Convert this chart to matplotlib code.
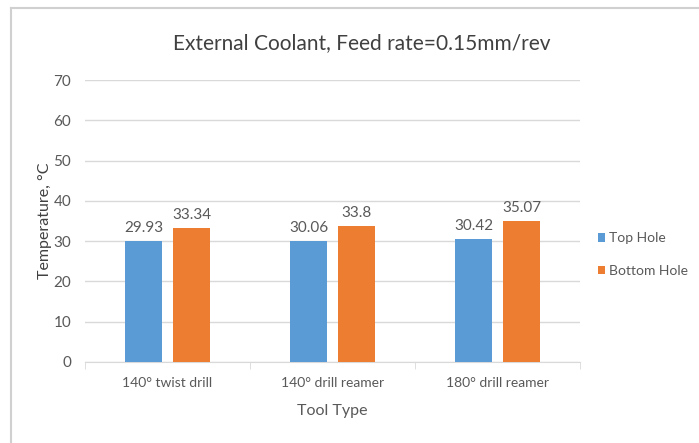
import numpy as np
import matplotlib
matplotlib.use("Agg")
import matplotlib.pyplot as plt
from matplotlib.lines import Line2D

plt.rcParams['font.family'] = ['Lato', 'DejaVu Sans']

tools = ['140° twist drill', '140° drill reamer', '180° drill reamer']
top_hole = [29.93, 30.06, 30.42]
bottom_hole = [33.34, 33.8, 35.07]
series_names = ['Top Hole', 'Bottom Hole']
yticks = [0, 10, 20, 30, 40, 50, 60, 70]

blue = '#5B9BD5'
orange = '#ED7D31'
txt = '#595959'

fig = plt.figure(figsize=(6.99, 4.43), dpi=100)
ax = fig.add_axes([0.1216, 0.183, 0.7084, 0.636])

# frame lines (left and top only, the rest is cut off)
fig.lines.append(Line2D([0.0155, 0.0155], [0.0, 0.982], transform=fig.transFigure,
                        color='#d0d0d0', linewidth=1.5))
fig.lines.append(Line2D([0.0155, 1.0], [0.982, 0.982], transform=fig.transFigure,
                        color='#d0d0d0', linewidth=1.5))

x = np.arange(len(tools))
w = 0.225
off = 0.145
b1 = ax.bar(x - off, top_hole, w, color=blue, label=series_names[0], zorder=3)
b2 = ax.bar(x + off, bottom_hole, w, color=orange, label=series_names[1], zorder=3)

for bars, vals in ((b1, top_hole), (b2, bottom_hole)):
    for r, v in zip(bars, vals):
        ax.text(r.get_x() + r.get_width()/2, v + 1.5, '{:g}'.format(v),
                ha='center', va='bottom', fontsize=11, color=txt)

ax.set_xlim(-0.5, 2.5)
ax.set_ylim(0, 70)
ax.set_yticks(yticks)
ax.yaxis.grid(True, color='#d9d9d9', linewidth=1, zorder=0)
ax.set_xticks(x)
ax.set_xticklabels(tools)
ax.set_xticks([-0.5, 0.5, 1.5, 2.5], minor=True)
ax.tick_params(axis='x', which='major', length=0, pad=11, labelsize=10, colors=txt)
ax.tick_params(axis='x', which='minor', length=5, color='#d9d9d9', direction='out')
ax.tick_params(axis='y', length=0, pad=10, labelsize=11, colors=txt)
for s in ['top', 'right', 'left']:
    ax.spines[s].set_visible(False)
ax.spines['bottom'].set_color('#d9d9d9')

ax.set_xlabel('Tool Type', fontsize=11.5, color=txt, labelpad=11)
ax.set_ylabel('Temperature, °C', fontsize=11.5, color='#404040', labelpad=1)
fig.text(0.518, 0.903, 'External Coolant, Feed rate=0.15mm/rev', fontsize=15,
         color='#404040', ha='center', va='center')

fig.legend(handles=[b1, b2], labels=series_names, loc='center left',
           bbox_to_anchor=(0.855, 0.425), frameon=False, fontsize=10,
           handlelength=0.55, handleheight=0.55, handletextpad=0.3, labelspacing=1.5,
           labelcolor=txt, borderpad=0, borderaxespad=0)

fig.savefig('out.png', dpi=100)
